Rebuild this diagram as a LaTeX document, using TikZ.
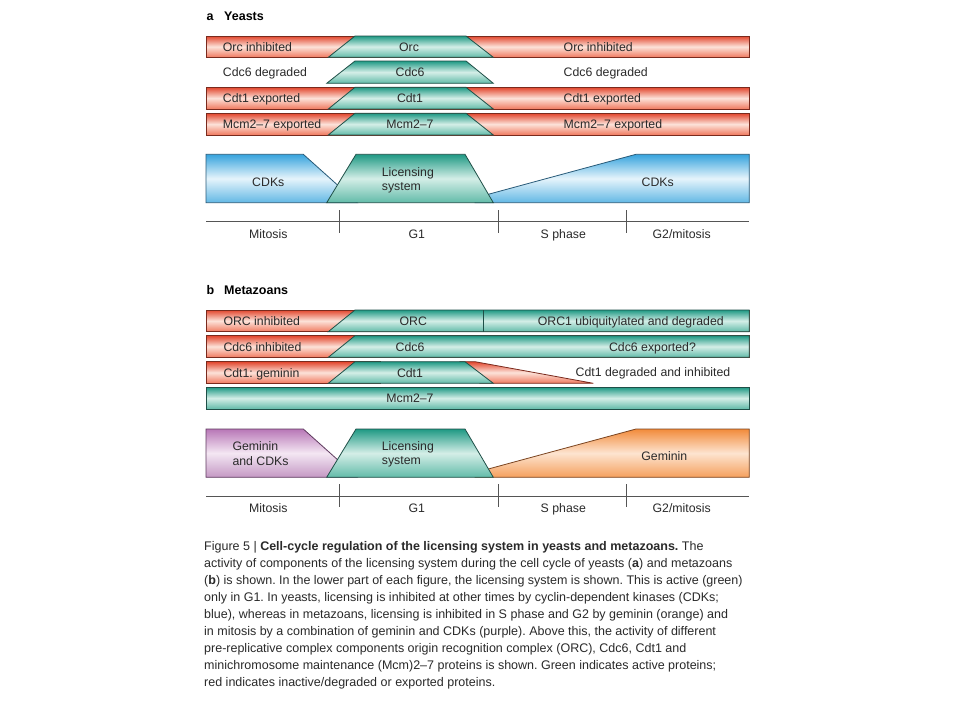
\documentclass[tikz,border=0pt]{standalone}
\usepackage{fontspec}
\setmainfont{Liberation Sans}
\frenchspacing
\definecolor{ink}{HTML}{2A2A2A}
\definecolor{redtop}{HTML}{E2462D}
\definecolor{redmid}{HTML}{FCE2D9}
\definecolor{redbot}{HTML}{F07A60}
\definecolor{redline}{HTML}{7A2A1D}
\definecolor{grntop}{HTML}{1F9984}
\definecolor{grnmid}{HTML}{D4EEE7}
\definecolor{grnbot}{HTML}{62BBA9}
\definecolor{grnline}{HTML}{1F4F47}
\definecolor{blutop}{HTML}{36A3DD}
\definecolor{blumid}{HTML}{E6F4FB}
\definecolor{blubot}{HTML}{62B8E5}
\definecolor{bluline}{HTML}{285A78}
\definecolor{purtop}{HTML}{B877B7}
\definecolor{purmid}{HTML}{F4E7F3}
\definecolor{purbot}{HTML}{C498C4}
\definecolor{purline}{HTML}{5E3A5E}
\definecolor{oratop}{HTML}{F28B3B}
\definecolor{oramid}{HTML}{FDE4D0}
\definecolor{orabot}{HTML}{F5A05D}
\definecolor{oraline}{HTML}{7A4420}
\definecolor{axcol}{HTML}{555555}
\begin{document}
\begin{tikzpicture}[x=1pt,y=-1pt,line join=miter,
  redbar/.style={draw=redline,line width=0.8pt,top color=redtop,bottom color=redbot,middle color=redmid},
  grnbar/.style={draw=grnline,line width=0.8pt,top color=grntop,bottom color=grnbot,middle color=grnmid},
  blubar/.style={draw=bluline,line width=0.8pt,top color=blutop,bottom color=blubot,middle color=blumid},
  purbar/.style={draw=purline,line width=0.8pt,top color=purtop,bottom color=purbot,middle color=purmid},
  orabar/.style={draw=oraline,line width=0.8pt,top color=oratop,bottom color=orabot,middle color=oramid},
  axline/.style={draw=axcol,line width=0.8pt},
  lbl/.style={inner sep=0pt,text height=9pt,text depth=0pt,font=\fontsize{12.3}{14}\selectfont,text=ink},
  head/.style={inner sep=0pt,text height=9pt,text depth=0pt,font=\fontsize{12.5}{14}\selectfont\bfseries,text=black,anchor=west},
  captxt/.style={inner sep=0pt,anchor=base west,font=\fontsize{12.5}{17}\selectfont,text=ink}
]
\useasboundingbox (0,0) rectangle (960,720);
\fill[white] (0,0) rectangle (960,720);

% ---------------- part a ----------------
\node[head] (ha) at (206.5,15.7) {a};
\node[head] (hat) at (224,15.7) {Yeasts};

% row 1
\path[redbar] (206,36) rectangle (749.3,57.3);
\path[grnbar] (355,36) -- (466,36) -- (493.3,57.3) -- (328.3,57.3) -- cycle;
\node[lbl,anchor=west] (a1l) at (222.7,46.7) {Orc inhibited};
\node[lbl] (a1c) at (409,46.7) {Orc};
\node[lbl,anchor=west] (a1r) at (563.5,46.7) {Orc inhibited};
% row 2
\path[grnbar] (355,61) -- (466,61) -- (493.3,83.3) -- (326.7,83.3) -- cycle;
\node[lbl,anchor=west] (a2l) at (222.7,72.2) {Cdc6 degraded};
\node[lbl] (a2c) at (410,72.2) {Cdc6};
\node[lbl,anchor=west] (a2r) at (563.5,72.2) {Cdc6 degraded};
% row 3
\path[redbar] (206,87.3) rectangle (749.3,109);
\path[grnbar] (355,87.3) -- (466,87.3) -- (493.3,109) -- (328.3,109) -- cycle;
\node[lbl,anchor=west] (a3l) at (222.7,98.2) {Cdt1 exported};
\node[lbl] (a3c) at (410,98.2) {Cdt1};
\node[lbl,anchor=west] (a3r) at (563.5,98.2) {Cdt1 exported};
% row 4
\path[redbar] (206,113.3) rectangle (749.3,135);
\path[grnbar] (355,113.3) -- (466,113.3) -- (493.3,135) -- (328.3,135) -- cycle;
\node[lbl,anchor=west] (a4l) at (222.7,124.2) {Mcm2–7 exported};
\node[lbl] (a4c) at (410,124.2) {Mcm2–7};
\node[lbl,anchor=west] (a4r) at (563.5,124.2) {Mcm2–7 exported};

% lower part a
\path[blubar] (206,154.3) -- (303.3,154.3) -- (357.2,202.7) -- (206,202.7) -- cycle;
\path[blubar] (636,154.3) -- (749.3,154.3) -- (749.3,202.7) -- (475,202.7) -- (475,197.9) -- cycle;
\path[grnbar] (356,154.3) -- (465,154.3) -- (493.3,202.7) -- (326.7,202.7) -- cycle;
\node[lbl] (acdk1) at (268.3,182.3) {CDKs};
\node[lbl,anchor=west] (alic1) at (381.7,172.3) {Licensing};
\node[lbl,anchor=west] (alic2) at (381.7,185.7) {system};
\node[lbl] (acdk2) at (657.7,182.3) {CDKs};

% axis a
\path[axline] (206,221.7) -- (749.3,221.7);
\path[axline] (339.3,210) -- (339.3,233.3);
\path[axline] (498.3,210) -- (498.3,233.3);
\path[axline] (626.7,210) -- (626.7,233.3);
\node[lbl] (ap1) at (268.3,234) {Mitosis};
\node[lbl] (ap2) at (416.7,234) {G1};
\node[lbl] (ap3) at (563.3,234) {S phase};
\node[lbl] (ap4) at (681.7,234) {G2/mitosis};

% ---------------- part b ----------------
\node[head] (hb) at (206.5,290) {b};
\node[head] (hbt) at (224,290) {Metazoans};

% row 1
\path[redbar] (206,310) rectangle (749.3,331.7);
\path[grnbar] (355,310) -- (749.3,310) -- (749.3,331.7) -- (328.3,331.7) -- cycle;
\path[draw=grnline,line width=0.8pt] (483.3,310) -- (483.3,331.7);
\node[lbl,anchor=west] (b1l) at (223.3,320.8) {ORC inhibited};
\node[lbl] (b1c) at (413.3,320.8) {ORC};
\node[lbl] (b1r) at (630.8,320.8) {ORC1 ubiquitylated and degraded};
% row 2
\path[redbar] (206,335.7) rectangle (749.3,357.3);
\path[grnbar] (355,335.7) -- (749.3,335.7) -- (749.3,357.3) -- (328.3,357.3) -- cycle;
\node[lbl,anchor=west] (b2l) at (223.3,346.5) {Cdc6 inhibited};
\node[lbl] (b2c) at (410,346.5) {Cdc6};
\node[lbl] (b2r) at (652.5,346.5) {Cdc6 exported?};
% row 3
\path[redbar] (206,361.7) rectangle (380,383.3);
\path[redbar] (460,361.7) -- (475,361.7) -- (593.3,383.3) -- (480,383.3) -- cycle;
\path[grnbar] (355,361.7) -- (465,361.7) -- (493.3,383.3) -- (328.3,383.3) -- cycle;
\node[lbl,anchor=west] (b3l) at (223.3,372.5) {Cdt1: geminin};
\node[lbl] (b3c) at (410,372.5) {Cdt1};
\node[lbl] (b3r) at (653,371.7) {Cdt1 degraded and inhibited};
% row 4
\path[grnbar] (206,387.3) rectangle (749.3,409);
\node[lbl] (b4c) at (410,398.2) {Mcm2–7};

% lower part b
\path[purbar] (206,429) -- (303.3,429) -- (357.2,477.3) -- (206,477.3) -- cycle;
\path[orabar] (636,429) -- (749.3,429) -- (749.3,477.3) -- (475,477.3) -- (475,472.6) -- cycle;
\path[grnbar] (356,429) -- (465,429) -- (493.3,477.3) -- (326.7,477.3) -- cycle;
\node[lbl,anchor=west] (bgc1) at (232.3,445.7) {Geminin};
\node[lbl,anchor=west] (bgc2) at (232.3,460.7) {and CDKs};
\node[lbl,anchor=west] (blic1) at (381.7,445.7) {Licensing};
\node[lbl,anchor=west] (blic2) at (381.7,460) {system};
\node[lbl] (bgem) at (664.3,456) {Geminin};

% axis b
\path[axline] (206,496) -- (749.3,496);
\path[axline] (339.3,484) -- (339.3,507.3);
\path[axline] (498.3,484) -- (498.3,507.3);
\path[axline] (626.7,484) -- (626.7,507.3);
\node[lbl] (bp1) at (268.3,508.3) {Mitosis};
\node[lbl] (bp2) at (416.7,508.3) {G1};
\node[lbl] (bp3) at (563.3,508.3) {S phase};
\node[lbl] (bp4) at (681.7,508.3) {G2/mitosis};

% ---------------- caption ----------------
\node[captxt] (c1) at (204,550) {Figure 5 | \textbf{Cell-cycle regulation of the licensing system in yeasts and metazoans.} The};
\node[captxt] (c2) at (204,567.1) {activity of components of the licensing system during the cell cycle of yeasts (\textbf{a}) and metazoans};
\node[captxt] (c3) at (204,584.2) {(\textbf{b}) is shown. In the lower part of each figure, the licensing system is shown. This is active (green)};
\node[captxt] (c4) at (204,601.3) {only in G1. In yeasts, licensing is inhibited at other times by cyclin-dependent kinases (CDKs;};
\node[captxt] (c5) at (204,618.4) {blue), whereas in metazoans, licensing is inhibited in S phase and G2 by geminin (orange) and};
\node[captxt] (c6) at (204,635.5) {in mitosis by a combination of geminin and CDKs (purple). Above this, the activity of different};
\node[captxt] (c7) at (204,652.6) {pre-replicative complex components origin recognition complex (ORC), Cdc6, Cdt1 and};
\node[captxt] (c8) at (204,669.7) {minichromosome maintenance (Mcm)2–7 proteins is shown. Green indicates active proteins;};
\node[captxt] (c9) at (204,686.8) {red indicates inactive/degraded or exported proteins.};
\end{tikzpicture}
\end{document}
